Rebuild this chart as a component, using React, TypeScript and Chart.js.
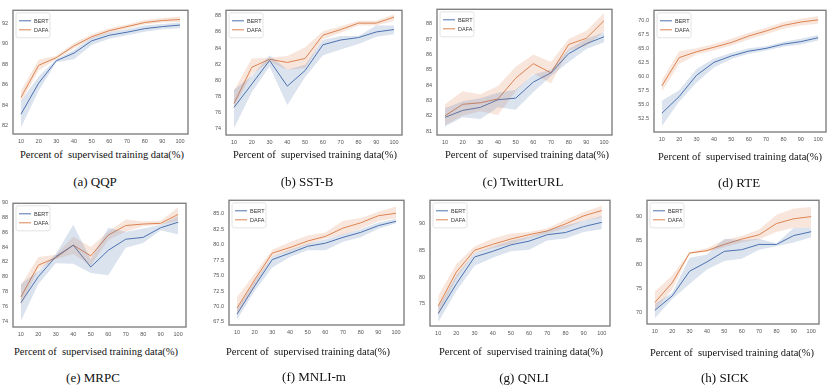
import React, { useEffect, useRef } from "react";
import { Chart, registerables } from "chart.js";
Chart.register(...registerables);

const PCT = [10, 20, 30, 40, 50, 60, 70, 80, 90, 100];
const X_TICKS = [10, 20, 30, 40, 50, 60, 70, 80, 90, 100];
const SERIES_NAMES = ["BERT", "DAFA"];
const X_TITLE = "Percent of  supervised training data(%)";

// (a) QQP
const QQP_BERT = [83.1, 86.15, 88.35, 89.1, 90.3, 90.85, 91.15, 91.5, 91.7, 91.85];
const QQP_BERT_LO = [81.8, 85.4, 88.2, 88.5, 89.9, 90.5, 90.85, 91.2, 91.45, 91.55];
const QQP_BERT_HI = [84.4, 86.8, 88.5, 89.4, 90.6, 91.15, 91.45, 91.8, 91.95, 92.1];
const QQP_DAFA = [84.75, 87.9, 88.65, 89.8, 90.7, 91.3, 91.7, 92.1, 92.3, 92.4];
const QQP_DAFA_LO = [84.3, 87.4, 88.5, 89.55, 90.5, 91.1, 91.5, 91.9, 92.1, 92.15];
const QQP_DAFA_HI = [85.4, 88.45, 88.85, 90.1, 90.95, 91.55, 91.9, 92.35, 92.55, 92.7];
const QQP_Y_TICKS = [82, 84, 86, 88, 90, 92];

// (b) SST-B
const SST_BERT = [76.6, 79.5, 82.45, 79.25, 81.2, 84.4, 85.0, 85.3, 86.0, 86.3];
const SST_BERT_LO = [74.0, 78.5, 81.7, 76.9, 80.4, 83.1, 83.8, 84.5, 85.4, 85.7];
const SST_BERT_HI = [78.8, 80.5, 83.1, 81.3, 81.9, 85.0, 85.5, 85.5, 86.8, 86.8];
const SST_DAFA = [77.1, 81.6, 82.6, 82.2, 82.7, 85.6, 86.3, 87.1, 87.1, 87.85];
const SST_DAFA_LO = [76.6, 80.7, 82.3, 81.3, 81.5, 85.1, 85.9, 86.8, 86.8, 87.4];
const SST_DAFA_HI = [78.7, 82.7, 82.8, 83.0, 84.1, 86.1, 86.7, 87.4, 87.4, 88.2];
const SST_Y_TICKS = [74, 76, 78, 80, 82, 84, 86, 88];

// (c) TwitterURL
const TW_BERT = [81.9, 82.35, 82.55, 83.05, 83.15, 84.2, 84.8, 86.05, 86.7, 87.15];
const TW_BERT_LO = [81.3, 81.9, 81.8, 82.55, 82.4, 83.55, 84.6, 85.5, 86.35, 86.8];
const TW_BERT_HI = [82.5, 82.95, 83.15, 83.5, 83.7, 84.7, 85.0, 86.35, 87.0, 87.45];
const TW_DAFA = [82.0, 82.75, 82.85, 83.1, 84.45, 85.4, 84.8, 86.65, 87.05, 88.2];
const TW_DAFA_LO = [81.4, 82.0, 82.3, 82.05, 83.6, 84.75, 84.1, 86.25, 86.55, 87.5];
const TW_DAFA_HI = [82.75, 83.6, 83.4, 83.95, 85.2, 86.0, 85.5, 87.0, 87.55, 88.7];
const TW_Y_TICKS = [81, 82, 83, 84, 85, 86, 87, 88];

// (d) RTE
const RTE_BERT = [53.5, 56.5, 60.3, 62.6, 63.75, 64.6, 65.1, 65.85, 66.3, 67.0];
const RTE_BERT_LO = [51.2, 55.6, 59.0, 61.7, 63.2, 64.15, 64.7, 65.4, 65.8, 66.5];
const RTE_BERT_HI = [55.75, 57.6, 61.4, 63.3, 64.3, 65.1, 65.5, 66.3, 66.8, 67.5];
const RTE_DAFA = [58.4, 63.45, 64.5, 65.3, 66.15, 67.3, 68.2, 69.2, 69.8, 70.2];
const RTE_DAFA_LO = [57.4, 62.3, 64.0, 64.7, 65.6, 66.7, 67.6, 68.6, 69.2, 69.5];
const RTE_DAFA_HI = [59.4, 64.6, 65.1, 65.9, 66.8, 67.9, 68.8, 69.8, 70.4, 70.9];
const RTE_Y_TICKS = [52.5, 55.0, 57.5, 60.0, 62.5, 65.0, 67.5, 70.0];

// (e) MRPC
const MRPC_BERT = [76.5, 80.0, 82.7, 84.25, 81.3, 83.55, 85.05, 85.3, 86.6, 87.35];
const MRPC_BERT_LO = [74.0, 79.0, 81.8, 81.75, 80.5, 80.2, 83.9, 84.55, 86.25, 85.7];
const MRPC_BERT_HI = [79.0, 80.75, 83.05, 87.0, 82.35, 86.6, 86.05, 86.5, 87.0, 88.2];
const MRPC_DAFA = [77.25, 81.55, 82.55, 84.25, 82.8, 85.6, 86.9, 87.1, 87.2, 88.4];
const MRPC_DAFA_LO = [76.0, 81.0, 82.35, 83.05, 81.5, 84.95, 86.1, 86.8, 87.0, 87.55];
const MRPC_DAFA_HI = [78.85, 82.65, 82.95, 85.4, 84.0, 86.1, 87.7, 87.45, 87.55, 89.35];
const MRPC_Y_TICKS = [74, 76, 78, 80, 82, 84, 86, 88, 90];

// (f) MNLI-m
const MNLI_BERT = [68.75, 73.3, 77.6, 78.65, 79.75, 80.25, 81.2, 82.0, 83.1, 83.8];
const MNLI_BERT_LO = [67.85, 72.5, 76.3, 78.0, 79.1, 79.1, 80.5, 81.2, 82.6, 83.5];
const MNLI_BERT_HI = [69.65, 74.05, 78.1, 79.2, 80.15, 80.9, 81.7, 82.5, 83.6, 84.2];
const MNLI_DAFA = [69.75, 74.3, 78.65, 79.55, 80.6, 81.35, 82.7, 83.55, 84.7, 85.1];
const MNLI_DAFA_LO = [68.6, 73.3, 78.1, 79.0, 80.0, 81.0, 81.6, 82.6, 83.8, 84.3];
const MNLI_DAFA_HI = [71.5, 75.3, 79.2, 80.45, 81.5, 82.0, 83.9, 84.3, 85.35, 86.2];
const MNLI_Y_TICKS = [67.5, 70.0, 72.5, 75.0, 77.5, 80.0, 82.5, 85.0];

// (g) QNLI
const QNLI_BERT = [73.2, 78.75, 83.75, 84.8, 86.0, 86.7, 87.9, 88.3, 89.4, 90.2];
const QNLI_BERT_LO = [71.6, 77.4, 82.1, 83.6, 84.8, 85.1, 86.8, 87.2, 88.4, 88.9];
const QNLI_BERT_HI = [74.4, 80.35, 84.5, 85.7, 86.8, 87.5, 88.7, 89.6, 90.5, 91.4];
const QNLI_DAFA = [74.6, 80.95, 85.0, 86.1, 87.1, 87.9, 88.6, 89.9, 91.4, 92.4];
const QNLI_DAFA_LO = [72.9, 79.75, 84.5, 85.4, 86.1, 87.3, 88.1, 89.1, 90.5, 91.1];
const QNLI_DAFA_HI = [76.5, 82.45, 85.7, 87.2, 88.1, 88.4, 89.1, 90.7, 92.1, 93.3];
const QNLI_Y_TICKS = [75, 80, 85, 90];

// (h) SICK
const SICK_BERT = [70.45, 73.45, 78.6, 80.55, 82.75, 83.1, 84.2, 84.2, 86.05, 86.85];
const SICK_BERT_LO = [68.8, 72.8, 75.95, 78.95, 80.75, 81.2, 83.1, 83.8, 84.6, 85.7];
const SICK_BERT_HI = [71.8, 74.1, 81.4, 82.1, 85.4, 85.1, 85.4, 84.4, 87.7, 87.7];
const SICK_DAFA = [72.1, 76.2, 82.4, 82.9, 84.2, 85.3, 86.2, 88.55, 89.55, 90.0];
const SICK_DAFA_LO = [70.45, 74.8, 82.2, 82.6, 83.6, 84.6, 85.3, 86.8, 87.7, 87.7];
const SICK_DAFA_HI = [74.4, 77.7, 82.6, 83.4, 85.1, 85.95, 87.3, 90.4, 91.7, 92.0];
const SICK_Y_TICKS = [70, 75, 80, 85, 90];

type PanelData = {
  caption: string;
  bert: number[]; bertLo: number[]; bertHi: number[];
  dafa: number[]; dafaLo: number[]; dafaHi: number[];
  yTicks: number[]; yMin: number; yMax: number; decimals: number;
};

const PANELS: PanelData[] = [
  { caption: "(a) QQP", bert: QQP_BERT, bertLo: QQP_BERT_LO, bertHi: QQP_BERT_HI, dafa: QQP_DAFA, dafaLo: QQP_DAFA_LO, dafaHi: QQP_DAFA_HI, yTicks: QQP_Y_TICKS, yMin: 81.16, yMax: 93.3, decimals: 0 },
  { caption: "(b) SST-B", bert: SST_BERT, bertLo: SST_BERT_LO, bertHi: SST_BERT_HI, dafa: SST_DAFA, dafaLo: SST_DAFA_LO, dafaHi: SST_DAFA_HI, yTicks: SST_Y_TICKS, yMin: 73.16, yMax: 88.7, decimals: 0 },
  { caption: "(c) TwitterURL", bert: TW_BERT, bertLo: TW_BERT_LO, bertHi: TW_BERT_HI, dafa: TW_DAFA, dafaLo: TW_DAFA_LO, dafaHi: TW_DAFA_HI, yTicks: TW_Y_TICKS, yMin: 80.75, yMax: 88.94, decimals: 0 },
  { caption: "(d) RTE", bert: RTE_BERT, bertLo: RTE_BERT_LO, bertHi: RTE_BERT_HI, dafa: RTE_DAFA, dafaLo: RTE_DAFA_LO, dafaHi: RTE_DAFA_HI, yTicks: RTE_Y_TICKS, yMin: 50.16, yMax: 71.9, decimals: 1 },
  { caption: "(e) MRPC", bert: MRPC_BERT, bertLo: MRPC_BERT_LO, bertHi: MRPC_BERT_HI, dafa: MRPC_DAFA, dafaLo: MRPC_DAFA_LO, dafaHi: MRPC_DAFA_HI, yTicks: MRPC_Y_TICKS, yMin: 73.2, yMax: 89.9, decimals: 0 },
  { caption: "(f) MNLI-m", bert: MNLI_BERT, bertLo: MNLI_BERT_LO, bertHi: MNLI_BERT_HI, dafa: MNLI_DAFA, dafaLo: MNLI_DAFA_LO, dafaHi: MNLI_DAFA_HI, yTicks: MNLI_Y_TICKS, yMin: 67.0, yMax: 87.2, decimals: 1 },
  { caption: "(g) QNLI", bert: QNLI_BERT, bertLo: QNLI_BERT_LO, bertHi: QNLI_BERT_HI, dafa: QNLI_DAFA, dafaLo: QNLI_DAFA_LO, dafaHi: QNLI_DAFA_HI, yTicks: QNLI_Y_TICKS, yMin: 70.9, yMax: 94.3, decimals: 0 },
  { caption: "(h) SICK", bert: SICK_BERT, bertLo: SICK_BERT_LO, bertHi: SICK_BERT_HI, dafa: SICK_DAFA, dafaLo: SICK_DAFA_LO, dafaHi: SICK_DAFA_HI, yTicks: SICK_Y_TICKS, yMin: 67.6, yMax: 93.4, decimals: 0 },
];

// layout: plot box [left, top, right, bottom], x-title center, caption center
const LAYOUT = [
  { box: [13, 5, 188, 134], tx: 102, ty: 155, cx: 95, cy: 182 },
  { box: [226, 5, 402, 135], tx: 315, ty: 155, cx: 307, cy: 182 },
  { box: [437, 4, 612, 135], tx: 527, ty: 155, cx: 523, cy: 182 },
  { box: [654, 5, 826, 132], tx: 740, ty: 157, cx: 739, cy: 183 },
  { box: [13, 198, 186, 327], tx: 96, ty: 352, cx: 93, cy: 378 },
  { box: [229, 195, 404, 325], tx: 308, ty: 352, cx: 314, cy: 377 },
  { box: [430, 195, 610, 326], tx: 521, ty: 352, cx: 524, cy: 378 },
  { box: [647, 195, 819, 324], tx: 732, ty: 353, cx: 725, cy: 378 },
];

const BLUE = "#4C72B0";
const ORANGE = "#DD8452";
const BLUE_BAND = "rgba(76,114,176,0.2)";
const ORANGE_BAND = "rgba(221,132,82,0.2)";

const Y_AXIS_W = 30;
const X_AXIS_H = 14;
const PAD = 3;

const pts = (ys: number[]) => PCT.map((x, i) => ({ x, y: ys[i] }));

const framePlugin = {
  id: "frame",
  afterDraw(chart: any) {
    const { ctx, chartArea: a } = chart;
    ctx.save();
    ctx.strokeStyle = "#808080";
    ctx.lineWidth = 1.4;
    ctx.strokeRect(a.left, a.top, a.right - a.left, a.bottom - a.top);
    // legend
    const lx = a.left + 3, ly = a.top + 2.5, lw = 34, lh = 25;
    ctx.fillStyle = "rgba(255,255,255,0.85)";
    ctx.strokeStyle = "#dddddd";
    ctx.lineWidth = 0.8;
    ctx.beginPath();
    ctx.roundRect(lx, ly, lw, lh, 2);
    ctx.fill();
    ctx.stroke();
    const colors = [BLUE, ORANGE];
    ctx.font = "5.5px 'Liberation Sans', Arial, sans-serif";
    ctx.textBaseline = "middle";
    SERIES_NAMES.forEach((name, i) => {
      const y = ly + 8 + i * 9;
      ctx.strokeStyle = colors[i];
      ctx.lineWidth = 1;
      ctx.beginPath();
      ctx.moveTo(lx + 3, y);
      ctx.lineTo(lx + 15, y);
      ctx.stroke();
      ctx.fillStyle = "#333";
      ctx.fillText(name, lx + 18, y + 0.5);
    });
    ctx.restore();
  },
};

function Panel({ data, layout }: { data: PanelData; layout: any }) {
  const ref = useRef<HTMLCanvasElement>(null);
  const [bx0, by0, bx1, by1] = layout.box;
  const W = bx1 - bx0 + Y_AXIS_W + PAD;
  const H = by1 - by0 + PAD + X_AXIS_H;
  useEffect(() => {
    const tickFont = { family: "'Liberation Sans', Arial, sans-serif", size: 5.5 };
    const chart = new Chart(ref.current!, {
      type: "line",
      data: {
        datasets: [
          { data: pts(data.bertHi), borderWidth: 0, pointRadius: 0, fill: false, backgroundColor: BLUE_BAND, borderColor: "transparent" },
          { data: pts(data.bertLo), borderWidth: 0, pointRadius: 0, fill: "-1", backgroundColor: BLUE_BAND, borderColor: "transparent" },
          { data: pts(data.dafaHi), borderWidth: 0, pointRadius: 0, fill: false, backgroundColor: ORANGE_BAND, borderColor: "transparent" },
          { data: pts(data.dafaLo), borderWidth: 0, pointRadius: 0, fill: "-1", backgroundColor: ORANGE_BAND, borderColor: "transparent" },
          { label: SERIES_NAMES[0], data: pts(data.bert), borderColor: BLUE, borderWidth: 1, pointRadius: 0, fill: false },
          { label: SERIES_NAMES[1], data: pts(data.dafa), borderColor: ORANGE, borderWidth: 1, pointRadius: 0, fill: false },
        ],
      } as any,
      options: {
        animation: false,
        responsive: false,
        events: [],
        layout: { padding: { top: PAD, right: PAD, left: 0, bottom: 0 } },
        plugins: { legend: { display: false }, tooltip: { enabled: false }, title: { display: false } },
        elements: { line: { tension: 0 } },
        scales: {
          x: {
            type: "linear",
            min: 5.5,
            max: 104.5,
            grid: { display: false, drawTicks: false },
            border: { display: false },
            afterBuildTicks: (s: any) => { s.ticks = X_TICKS.map((v) => ({ value: v })); },
            afterFit: (s: any) => { s.height = X_AXIS_H; },
            ticks: { font: tickFont, color: "#555", padding: 4, autoSkip: false, maxRotation: 0, callback: (v: any) => String(v) },
          },
          y: {
            type: "linear",
            min: data.yMin,
            max: data.yMax,
            grid: { display: false, drawTicks: false },
            border: { display: false },
            afterBuildTicks: (s: any) => { s.ticks = data.yTicks.map((v) => ({ value: v })); },
            afterFit: (s: any) => { s.width = Y_AXIS_W; },
            ticks: { font: tickFont, color: "#555", padding: 5, autoSkip: false, callback: (v: any) => Number(v).toFixed(data.decimals) },
          },
        },
      } as any,
      plugins: [framePlugin],
    });
    return () => chart.destroy();
  }, []);
  return (
    <>
      <canvas
        ref={ref}
        width={W}
        height={H}
        style={{ position: "absolute", left: bx0 - Y_AXIS_W, top: by0 - PAD, width: W, height: H }}
      />
      <div style={{ position: "absolute", left: layout.tx - 110, top: layout.ty - 7, width: 220, textAlign: "center", whiteSpace: "pre", fontFamily: "'Liberation Serif', 'Times New Roman', serif", fontSize: 10.5, lineHeight: "14px", color: "#111" }}>
        {X_TITLE}
      </div>
      <div style={{ position: "absolute", left: layout.cx - 80, top: layout.cy - 8, width: 160, textAlign: "center", whiteSpace: "pre", fontFamily: "'Liberation Serif', 'Times New Roman', serif", fontSize: 13, lineHeight: "16px", color: "#111" }}>
        {data.caption}
      </div>
    </>
  );
}

export default function App() {
  return (
    <div style={{ position: "fixed", left: 0, top: 0, width: 831, height: 390, background: "#fff", overflow: "hidden" }}>
      {PANELS.map((p, i) => (
        <Panel key={i} data={p} layout={LAYOUT[i]} />
      ))}
    </div>
  );
}
